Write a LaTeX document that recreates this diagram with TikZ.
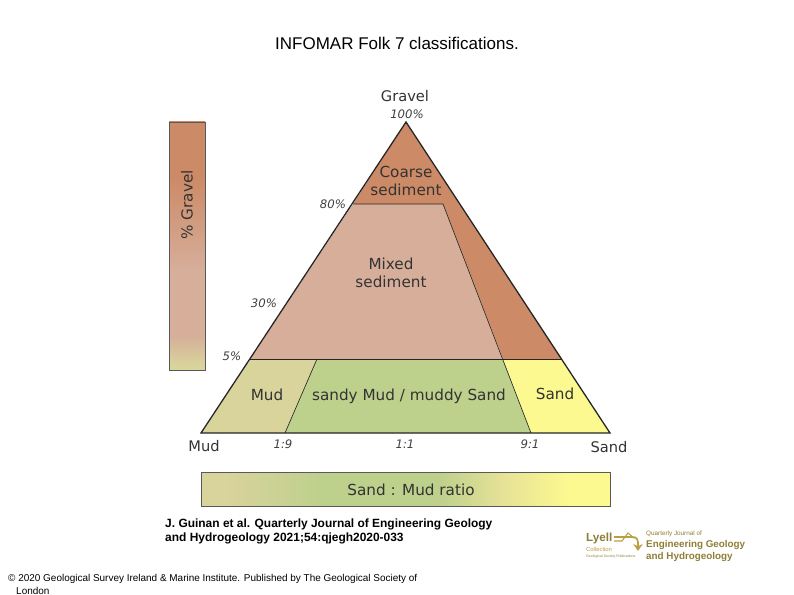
\documentclass[tikz,border=0pt]{standalone}
\usepackage{fontspec}
\setmainfont{Liberation Sans}
\newfontfamily\labelfont{DejaVu Sans}
\usepackage{xcolor}
\usetikzlibrary{arrows.meta,positioning,calc}
\definecolor{coarsecol}{HTML}{CC8A66}
\definecolor{mixedcol}{HTML}{D6AE9A}
\definecolor{mudcol}{HTML}{D9D39C}
\definecolor{sandymudcol}{HTML}{BDD08C}
\definecolor{sandcol}{HTML}{FBF98F}
\definecolor{logocol}{HTML}{8E7F35}
\definecolor{logogold}{HTML}{B9A043}
\pgfdeclareverticalshading{gravelshade}{100bp}{
  color(0bp)=(mudcol); color(26bp)=(mudcol); color(32bp)=(mixedcol);
  color(45bp)=(mixedcol); color(64bp)=(coarsecol); color(100bp)=(coarsecol)}
\pgfdeclarehorizontalshading{ratioshade}{100bp}{
  color(0bp)=(mudcol); color(28bp)=(mudcol); color(40bp)=(sandymudcol);
  color(54bp)=(sandymudcol); color(62bp)=(mudcol!60!sandcol); color(70bp)=(sandcol); color(100bp)=(sandcol)}
\tikzset{
  fieldline/.style={draw=black!85,line width=0.55pt,line join=round},
  outline/.style={draw=black!85,line width=1.1pt,line join=miter},
  barbox/.style={draw=black!65,line width=0.7pt},
  fieldtext/.style={font=\labelfont\fontsize{13}{13}\selectfont,text=black!80,align=center,inner sep=0pt},
  cornertext/.style={font=\labelfont\fontsize{12.5}{13}\selectfont,text=black!80,inner sep=0pt},
  ticktext/.style={font=\labelfont\itshape\fontsize{10}{10}\selectfont,text=black!75,inner sep=0pt},
  captext/.style={font=\fontsize{10}{12}\selectfont,anchor=west,inner sep=0pt},
  logotext/.style={font=\bfseries\fontsize{8.4}{9}\selectfont,text=logocol,anchor=west,inner sep=0pt}
}
\begin{document}
\begin{tikzpicture}[x=0.3mm,y=-0.3mm]
  \useasboundingbox (0,0) rectangle (794,595);
  \fill[white] (0,0) rectangle (794,595);
  % corners of the triangle and the field limits
  \coordinate (G) at (406,122);
  \coordinate (M) at (201,433);
  \coordinate (S) at (610,433);
  \coordinate (A1) at (353,204);
  \coordinate (A2) at (443,204);
  \coordinate (B1) at (250,359);
  \coordinate (B2) at (317,359);
  \coordinate (B3) at (503,359);
  \coordinate (B4) at (562,359);
  \coordinate (C1) at (285,433);
  \coordinate (C2) at (531,433);
  % fields
  \path[fill=coarsecol] (G) -- (B4) -- (B3) -- (A2) -- (A1) -- cycle;
  \path[fill=mixedcol] (A1) -- (A2) -- (B3) -- (B1) -- cycle;
  \path[fill=mudcol] (B1) -- (B2) -- (C1) -- (M) -- cycle;
  \path[fill=sandymudcol] (B2) -- (B3) -- (C2) -- (C1) -- cycle;
  \path[fill=sandcol] (B3) -- (B4) -- (S) -- (C2) -- cycle;
  \draw[fieldline] (A1) -- (A2) -- (C2);
  \draw[fieldline] (B1) -- (B4);
  \draw[fieldline] (B2) -- (C1);
  \draw[outline] (G) -- (S) -- (M) -- cycle;
  % bars
  \path[barbox,shading=gravelshade] (169,122) rectangle (205,370);
  \path[barbox,shading=ratioshade] (201,472) rectangle (610,506);
  \node[fieldtext,rotate=90] (gravelbar) at (187,205) {\% Gravel};
  \node[fieldtext] (ratiobar) at (411,490) {Sand : Mud ratio};
  % labels in the fields
  \node[fieldtext] (coarse) at (406,181) {Coarse\\[2.5pt]sediment};
  \node[fieldtext] (mixed) at (391,273) {Mixed\\[2.5pt]sediment};
  \node[fieldtext] (mudfield) at (267,395) {Mud};
  \node[fieldtext] (sandymud) at (409,396) {sandy Mud / muddy Sand};
  \node[fieldtext] (sandfield) at (555,394) {Sand};
  % corners
  \node[cornertext] (gravel) at (405,96) {Gravel};
  \node[cornertext] (mud) at (204,446) {Mud};
  \node[cornertext] (sand) at (609,447) {Sand};
  % ticks
  \node[ticktext] (t100) at (407,114) {100\%};
  \node[ticktext] (t80) at (333,204) {80\%};
  \node[ticktext] (t30) at (264,303) {30\%};
  \node[ticktext] (t5) at (232,356) {5\%};
  \node[ticktext] (r19) at (283,444) {1:9};
  \node[ticktext] (r11) at (405,444) {1:1};
  \node[ticktext] (r91) at (530,444) {9:1};
  % caption
  \node[font=\fontsize{14.5}{16}\selectfont,inner sep=0pt] (title) at (397,43) {INFOMAR Folk 7 classifications.};
  \node[captext,font=\bfseries\fontsize{10.2}{12}\selectfont] (cite1) at (165,524) {J. Guinan et al. Quarterly Journal of Engineering Geology};
  \node[captext,font=\bfseries\fontsize{10.2}{12}\selectfont] (cite2) at (165,538) {and Hydrogeology 2021;54:qjegh2020-033};
  \node[captext,font=\fontsize{8.5}{9}\selectfont] (copy1) at (8,579) {© 2020 Geological Survey Ireland \& Marine Institute. Published by The Geological Society of};
  \node[captext,font=\fontsize{8.5}{9}\selectfont] (copy2) at (16,591) {London};
  % logo
  \node[logotext,font=\bfseries\fontsize{10}{10}\selectfont] (lyell) at (586,538) {Lyell};
  \node[logotext,font=\fontsize{5}{5}\selectfont,text=logogold] (coll) at (586,549) {Collection};
  \node[logotext,font=\fontsize{3}{3}\selectfont] (lyellsub) at (586,557) {Geological Society Publications};
  \draw[logogold,line width=1.5pt,-{Stealth[length=6pt,width=8pt]}] (614,537) -- (632,537) .. controls (638,537) and (638,540) .. (638,551);
  \draw[logogold,line width=0.9pt] (614,541) -- (622,541) -- (628,533) -- (634,538);
  \node[logotext,font=\fontsize{5.4}{6}\selectfont] (qj) at (646,534) {Quarterly Journal of};
  \node[logotext] (eng) at (646,545) {Engineering Geology};
  \node[logotext] (hyd) at (646,557) {and Hydrogeology};
\end{tikzpicture}
\end{document}
